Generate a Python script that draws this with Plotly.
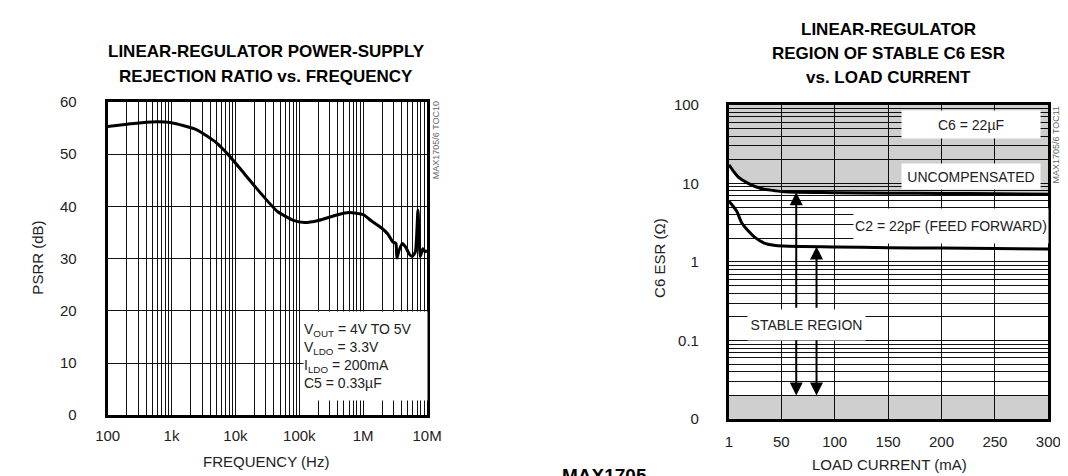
import math
import plotly.graph_objects as go

# ---------------- data ----------------
# Left: PSRR vs frequency
freq_hz = [100, 200, 400, 600, 1000, 2440, 5000, 7850, 14100, 25300, 45500, 81000,
           120000, 200000, 400000, 600000, 1000000, 1350000, 1920000, 2430000,
           2890000, 3250000, 3370000, 3650000, 4100000, 4620000, 5190000, 5840000,
           6560000, 7200000, 7820000, 8600000, 9330000, 10000000]
psrr_db = [55.3, 55.7, 56.1, 56.2, 56.0, 54.7, 52.2, 49.8, 46.1, 42.4, 39.0, 37.3,
           36.9, 37.3, 38.4, 38.8, 38.4, 37.2, 35.9, 34.7,
           33.2, 32.9, 30.1, 31.6, 32.9, 32.2, 31.0, 30.4,
           31.3, 39.3, 30.4, 31.9, 31.3, 31.6]
psrr_xticks = [100, 1000, 10000, 100000, 1000000, 10000000]
psrr_xticktext = ["100", "1k", "10k", "100k", "1M", "10M"]
psrr_yticks = [0, 10, 20, 30, 40, 50, 60]

# Right: stable C6 ESR vs load current
uncomp_ma = [1, 5.3, 9.8, 19, 31, 43, 52, 100, 150, 200, 250, 300]
uncomp_esr = [17.2, 14.2, 12.0, 10.0, 8.6, 8.1, 7.8, 7.6, 7.5, 7.45, 7.35, 7.25]
ff_ma = [1, 4, 8.3, 12.9, 19, 25, 34, 43, 52, 100, 150, 200, 250, 300]
ff_esr = [5.9, 5.3, 4.4, 3.16, 2.49, 2.07, 1.74, 1.63, 1.59, 1.55, 1.52, 1.5, 1.48, 1.46]
esr_ceiling = 100
esr_floor_lo = 0.01
esr_floor_hi = 0.02
load_span = [1, 300]
arrow_ma = [64, 83]
arrow_tip_up = [7.7, 1.57]
arrow_tail_up = 0.25
arrow_tail_down = 0.105
esr_xticks = [1, 50, 100, 150, 200, 250, 300]
esr_yticks = [0.01, 0.1, 1, 10, 100]
esr_yticktext = ["0", "0.1", "1", "10", "100"]

# ---------------- styling ----------------
W, H = 1068, 476
SANS = "Liberation Sans, Arial, sans-serif"
GRID = "#111111"
FILL = "rgba(0,0,0,0.19)"
TXT = "#222222"


def px(x):
    return x / W


def py(y):
    return 1 - y / H


fig = go.Figure()

# left chart curve
fig.add_trace(go.Scatter(x=freq_hz, y=psrr_db, mode="lines", xaxis="x", yaxis="y",
                         line=dict(color="black", width=3, shape="spline", smoothing=0.5),
                         showlegend=False, hoverinfo="skip"))

# right chart: top gray region bounded by the uncompensated curve
fig.add_trace(go.Scatter(x=uncomp_ma, y=[esr_ceiling] * len(uncomp_ma), mode="lines",
                         xaxis="x2", yaxis="y2", line=dict(width=0, color="rgba(0,0,0,0)"),
                         showlegend=False, hoverinfo="skip"))
fig.add_trace(go.Scatter(x=uncomp_ma, y=uncomp_esr, mode="lines", xaxis="x2", yaxis="y2",
                         fill="tonexty", fillcolor=FILL,
                         line=dict(color="black", width=3, shape="spline", smoothing=0.8),
                         showlegend=False, hoverinfo="skip"))
# bottom gray band
fig.add_trace(go.Scatter(x=load_span, y=[esr_floor_lo] * 2, mode="lines",
                         xaxis="x2", yaxis="y2", line=dict(width=0, color="rgba(0,0,0,0)"),
                         showlegend=False, hoverinfo="skip"))
fig.add_trace(go.Scatter(x=load_span, y=[esr_floor_hi] * 2, mode="lines",
                         xaxis="x2", yaxis="y2", fill="tonexty", fillcolor=FILL,
                         line=dict(width=0, color="rgba(0,0,0,0)"),
                         showlegend=False, hoverinfo="skip"))
# feed-forward curve
fig.add_trace(go.Scatter(x=ff_ma, y=ff_esr, mode="lines", xaxis="x2", yaxis="y2",
                         line=dict(color="black", width=3, shape="spline", smoothing=0.8),
                         showlegend=False, hoverinfo="skip"))

tickfont = dict(family=SANS, size=15, color=TXT)
axis_common = dict(showline=True, linewidth=3, linecolor="black", mirror=True,
                   ticks="", tickfont=tickfont, zeroline=False,
                   gridcolor=GRID, gridwidth=1)

fig.update_layout(
    width=W, height=H,
    margin=dict(l=0, r=0, t=0, b=0),
    paper_bgcolor="white", plot_bgcolor="white",
    xaxis=dict(domain=[px(89), px(417)], anchor="y", type="log",
               range=[2, 7], tickmode="array", tickvals=psrr_xticks,
               ticktext=psrr_xticktext, showgrid=True,
               minor=dict(dtick="D1", showgrid=True, gridcolor=GRID, gridwidth=1, ticks=""),
               ticklabelstandoff=5, **axis_common),
    yaxis=dict(domain=[py(413), py(88)], anchor="x", range=[0, 60],
               tickmode="array", tickvals=psrr_yticks, showgrid=True,
               ticklabelstandoff=25, **axis_common),
    xaxis2=dict(domain=[px(727), px(1055)], anchor="y2", range=[1, 300],
                tickmode="array", tickvals=esr_xticks, showgrid=True,
                ticklabelstandoff=7, **axis_common),
    yaxis2=dict(domain=[py(417), py(91)], anchor="x2", type="log", range=[-2, 2],
                tickmode="array", tickvals=esr_yticks, ticktext=esr_yticktext,
                showgrid=True,
                minor=dict(dtick="D1", showgrid=True, gridcolor=GRID, gridwidth=1, ticks=""),
                ticklabelstandoff=24, **axis_common),
)

ann = []


def T(text, x, y, size=17, bold=True, color="black", **kw):
    d = dict(text=("<b>%s</b>" % text) if bold else text, x=px(x), y=py(y),
             xref="paper", yref="paper", showarrow=False,
             font=dict(family=SANS, size=size, color=color),
             xanchor=kw.pop("xanchor", "center"), yanchor=kw.pop("yanchor", "middle"))
    d.update(kw)
    ann.append(d)


# titles
T("LINEAR-REGULATOR POWER-SUPPLY", 252, 36)
T("REJECTION RATIO vs. FREQUENCY", 252, 62)
T("LINEAR-REGULATOR", 891, 13)
T("REGION OF STABLE C6 ESR", 891, 38)
T("vs. LOAD CURRENT", 891, 63)

# axis titles
T("PSRR (dB)", 17, 250, size=15, bold=False, color=TXT, textangle=-90)
T("FREQUENCY (Hz)", 252, 461, size=15, bold=False, color=TXT)
T("C6 ESR (Ω)", 655, 250, size=15, bold=False, color=TXT, textangle=-90)
T("LOAD CURRENT (mA)", 892, 464, size=15, bold=False, color=TXT)

# watermarks
T("MAX1705/6 TOC10", 427, 128, size=9, bold=False, color="#666", textangle=-90)
T("MAX1705/6 TOC11", 1063, 132, size=9, bold=False, color="#666", textangle=-90)

# bottom part number (cut off at the page edge, as in the source)
ann.append(dict(text="<b>MAX1705</b>", x=px(553), y=py(462), xref="paper", yref="paper",
                showarrow=False, xanchor="left", yanchor="top",
                font=dict(family=SANS, size=19, color="black")))

# left conditions box
ann.append(dict(text="V<sub>OUT</sub> = 4V TO 5V<br>V<sub>LDO</sub> = 3.3V<br>"
                     "I<sub>LDO</sub> = 200mA<br>C5 = 0.33µF",
                x=px(290), y=py(305), xref="paper", yref="paper", showarrow=False,
                xanchor="left", yanchor="top", align="left", valign="middle",
                width=123, height=88, bgcolor="white", borderpad=0,
                font=dict(family=SANS, size=14, color=TXT)))


def box(text, x0, x1, y0, y1):
    ann.append(dict(text=text, x=px((x0 + x1) / 2), y=py((y0 + y1) / 2),
                    xref="paper", yref="paper", showarrow=False,
                    xanchor="center", yanchor="middle", align="center", valign="middle",
                    width=x1 - x0, height=y1 - y0, bgcolor="white", borderpad=0,
                    font=dict(family=SANS, size=14, color=TXT)))


box("C6 = 22µF", 907, 1045, 98, 125)
box("UNCOMPENSATED", 907, 1045, 153, 178)
box("C2 = 22pF (FEED FORWARD)", 858, 1052, 200, 234)
box("STABLE REGION", 748, 865, 304, 334)

# arrows
for xm, tip in zip(arrow_ma, arrow_tip_up):
    ann.append(dict(x=xm, y=math.log10(tip), ax=xm, ay=math.log10(arrow_tail_up),
                    xref="x2", yref="y2", axref="x2", ayref="y2", text="",
                    showarrow=True, arrowhead=2, arrowsize=1.3, arrowwidth=2,
                    arrowcolor="black", standoff=0, startstandoff=0))
    ann.append(dict(x=xm, y=math.log10(esr_floor_hi), ax=xm, ay=math.log10(arrow_tail_down),
                    xref="x2", yref="y2", axref="x2", ayref="y2", text="",
                    showarrow=True, arrowhead=2, arrowsize=1.3, arrowwidth=2,
                    arrowcolor="black", standoff=0, startstandoff=0))

fig.update_layout(annotations=ann)
fig.write_html("out.html")
